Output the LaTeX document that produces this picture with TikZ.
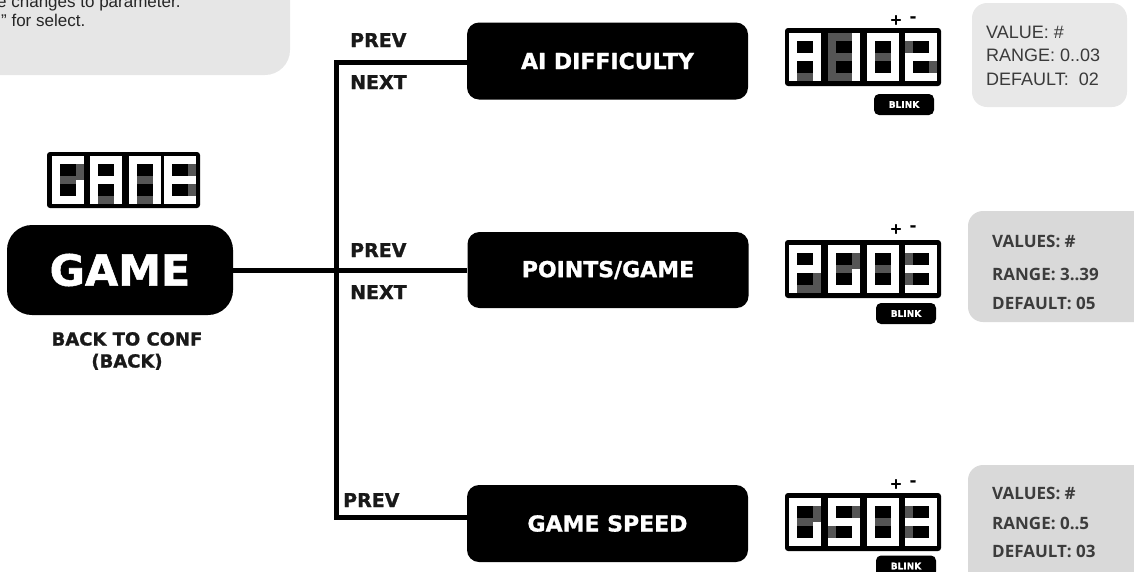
\documentclass[tikz,border=0pt]{standalone}
\usepackage{fontspec}
\setmainfont{Liberation Sans}
\newfontfamily\heavy[FakeBold=1.2]{DejaVu Sans Bold}
\newfontfamily\semi{Open Sans}
\definecolor{tlgrey}{HTML}{E6E6E6}
\definecolor{boxlight}{HTML}{E8E8E8}
\definecolor{boxdark}{HTML}{D9D9D9}
\definecolor{infotext}{HTML}{3A3A3A}
\definecolor{infotextb}{HTML}{3C3C3C}
\definecolor{segoff}{HTML}{555555}
\newcommand\fsz[1]{\fontsize{#1}{#1}\selectfont}
% seven-segment pieces (w=32, h=48, t=8)
\newcommand\segA[1]{\fill[#1] (0,0) rectangle (32,8);}
\newcommand\segB[1]{\fill[#1] (24,0) rectangle (32,24);}
\newcommand\segC[1]{\fill[#1] (24,24) rectangle (32,48);}
\newcommand\segD[1]{\fill[#1] (0,40) rectangle (32,48);}
\newcommand\segE[1]{\fill[#1] (0,24) rectangle (8,48);}
\newcommand\segF[1]{\fill[#1] (0,0) rectangle (8,24);}
\newcommand\segG[1]{\fill[#1] (0,20) rectangle (32,28);}
\newcommand\segdigit[3]{%
  \begin{scope}[shift={(#1,#2)}]
    \foreach \s in {A,B,C,D,E,F,G}{\csname seg\s\endcsname{segoff}}
    \foreach \s in {#3}{\csname seg\s\endcsname{white}}
  \end{scope}}
\newcommand\segdisplay[6]{%
  \begin{scope}[shift={(#1,#2)}]
    \fill[black, rounded corners=3] (0,0) rectangle (156,58);
    \segdigit{4}{5}{#3}\segdigit{43}{5}{#4}\segdigit{82}{5}{#5}\segdigit{120}{5}{#6}
  \end{scope}}
\tikzset{
  menubox/.style={fill=black, rounded corners=12, text=white, inner sep=0pt,
    minimum width=281, minimum height=77, font=\heavy\fsz{22}},
  lbl/.style={anchor=base west, inner sep=0pt, font=\heavy\fsz{19}, text=black!90},
  conn/.style={line width=5pt},
  blink/.style={fill=black, rounded corners=5, text=white, inner sep=0pt,
    minimum width=60, minimum height=21, font=\heavy\fsz{9}},
  pm/.style={inner sep=0pt, font=\heavy\fsz{15}},
  infoA/.style={anchor=base west, inner sep=0pt, font=\fsz{18}, text=infotext},
  infoB/.style={anchor=base west, inner sep=0pt, font=\semi\bfseries\fsz{17}, text=infotextb},
  note/.style={anchor=base west, inner sep=0pt, font=\fsz{17}, text=black!85},
}
\begin{document}
\begin{tikzpicture}[x=1pt,y=-1pt]
\useasboundingbox (0,0) rectangle (1134,571);

% top-left note box
\fill[tlgrey, rounded corners=25] (-30,-30) rectangle (290,75);
\node[note] (n1) at (-3,7) {e changes to parameter.};
\node[note] (n2) at (1,26) {" for select.};

% GAME display and box
\begin{scope}[shift={(47,152)}]
  \fill[black, rounded corners=3] (0,0) rectangle (153,56);
  \segdigit{5}{4}{A,C,D,E,F}
  \segdigit{43}{4}{A,B,C,E,F,G}
  \segdigit{82}{4}{A,B,C,E,F}
  \segdigit{117}{4}{A,D,E,F,G}
\end{scope}
\node[menubox, rounded corners=25, minimum width=226, minimum height=90,
  font=\heavy\fsz{43}] (game) at (120,270) {GAME};
\node[inner sep=0pt, font=\heavy\fsz{18}, text=black!90, align=center] (back) at (127,351)
  {BACK TO CONF\\[4pt](BACK)};

% menu boxes
\node[menubox] (ai) at (607.5,61) {AI DIFFICULTY};
\node[menubox, minimum height=76] (pg) at (608,270) {POINTS/GAME};
\node[menubox] (gs) at (607.5,523.5) {GAME SPEED};

% connectors
\coordinate (top) at (336,62);
\coordinate (bot) at (336,517);
\draw[conn] (game.east) -- (pg.west);
\draw[conn] (ai.west |- top) -- (top) -- (bot) -- (bot -| gs.west);

% labels
\node[lbl] (p1) at (350,47) {PREV};
\node[lbl] (x1) at (350,89) {NEXT};
\node[lbl] (p2) at (350,257) {PREV};
\node[lbl] (x2) at (350,299) {NEXT};
\node[lbl] (p3) at (343,507) {PREV};

% displays
\segdisplay{785}{28}{A,B,C,E,F,G}{B,C}{A,B,C,D,E,F}{A,B,G,E,D}
\segdisplay{785}{240}{A,B,E,F,G}{A,C,D,E,F}{A,B,C,D,E,F}{A,B,C,D,G}
\segdisplay{785}{493}{A,C,D,E,F}{A,F,G,C,D}{A,B,C,D,E,F}{A,B,C,D,G}

\node[pm] (pa1) at (896,20) {+};
\node[pm] (ma1) at (913,19) {-};
\node[pm] (pa2) at (896,229) {+};
\node[pm] (ma2) at (913,228) {-};
\node[pm] (pa3) at (896,484) {+};
\node[pm] (ma3) at (913,483) {-};

\node[blink] (b1) at (904,104.5) {BLINK};
\node[blink] (b2) at (906,313.5) {BLINK};
\node[blink] (b3) at (906,566) {BLINK};

% info boxes
\fill[boxlight, rounded corners=15] (972,3) rectangle (1127,107);
\node[infoA] (v1) at (986,38) {VALUE: \#};
\node[infoA] (r1) at (986,61) {RANGE: 0..03};
\node[infoA] (d1) at (986,85) {DEFAULT:\ \ 02};

\fill[boxdark, rounded corners=15] (968,211) rectangle (1150,322);
\node[infoB] (v2) at (992,247) {VALUES: \#};
\node[infoB] (r2) at (992,280) {RANGE: 3..39};
\node[infoB] (d2) at (992,309) {DEFAULT: 05};

\fill[boxdark, rounded corners=15] (968,465) rectangle (1150,600);
\node[infoB] (v3) at (992,499) {VALUES: \#};
\node[infoB] (r3) at (992,529) {RANGE: 0..5};
\node[infoB] (d3) at (992,557) {DEFAULT: 03};
\end{tikzpicture}
\end{document}
